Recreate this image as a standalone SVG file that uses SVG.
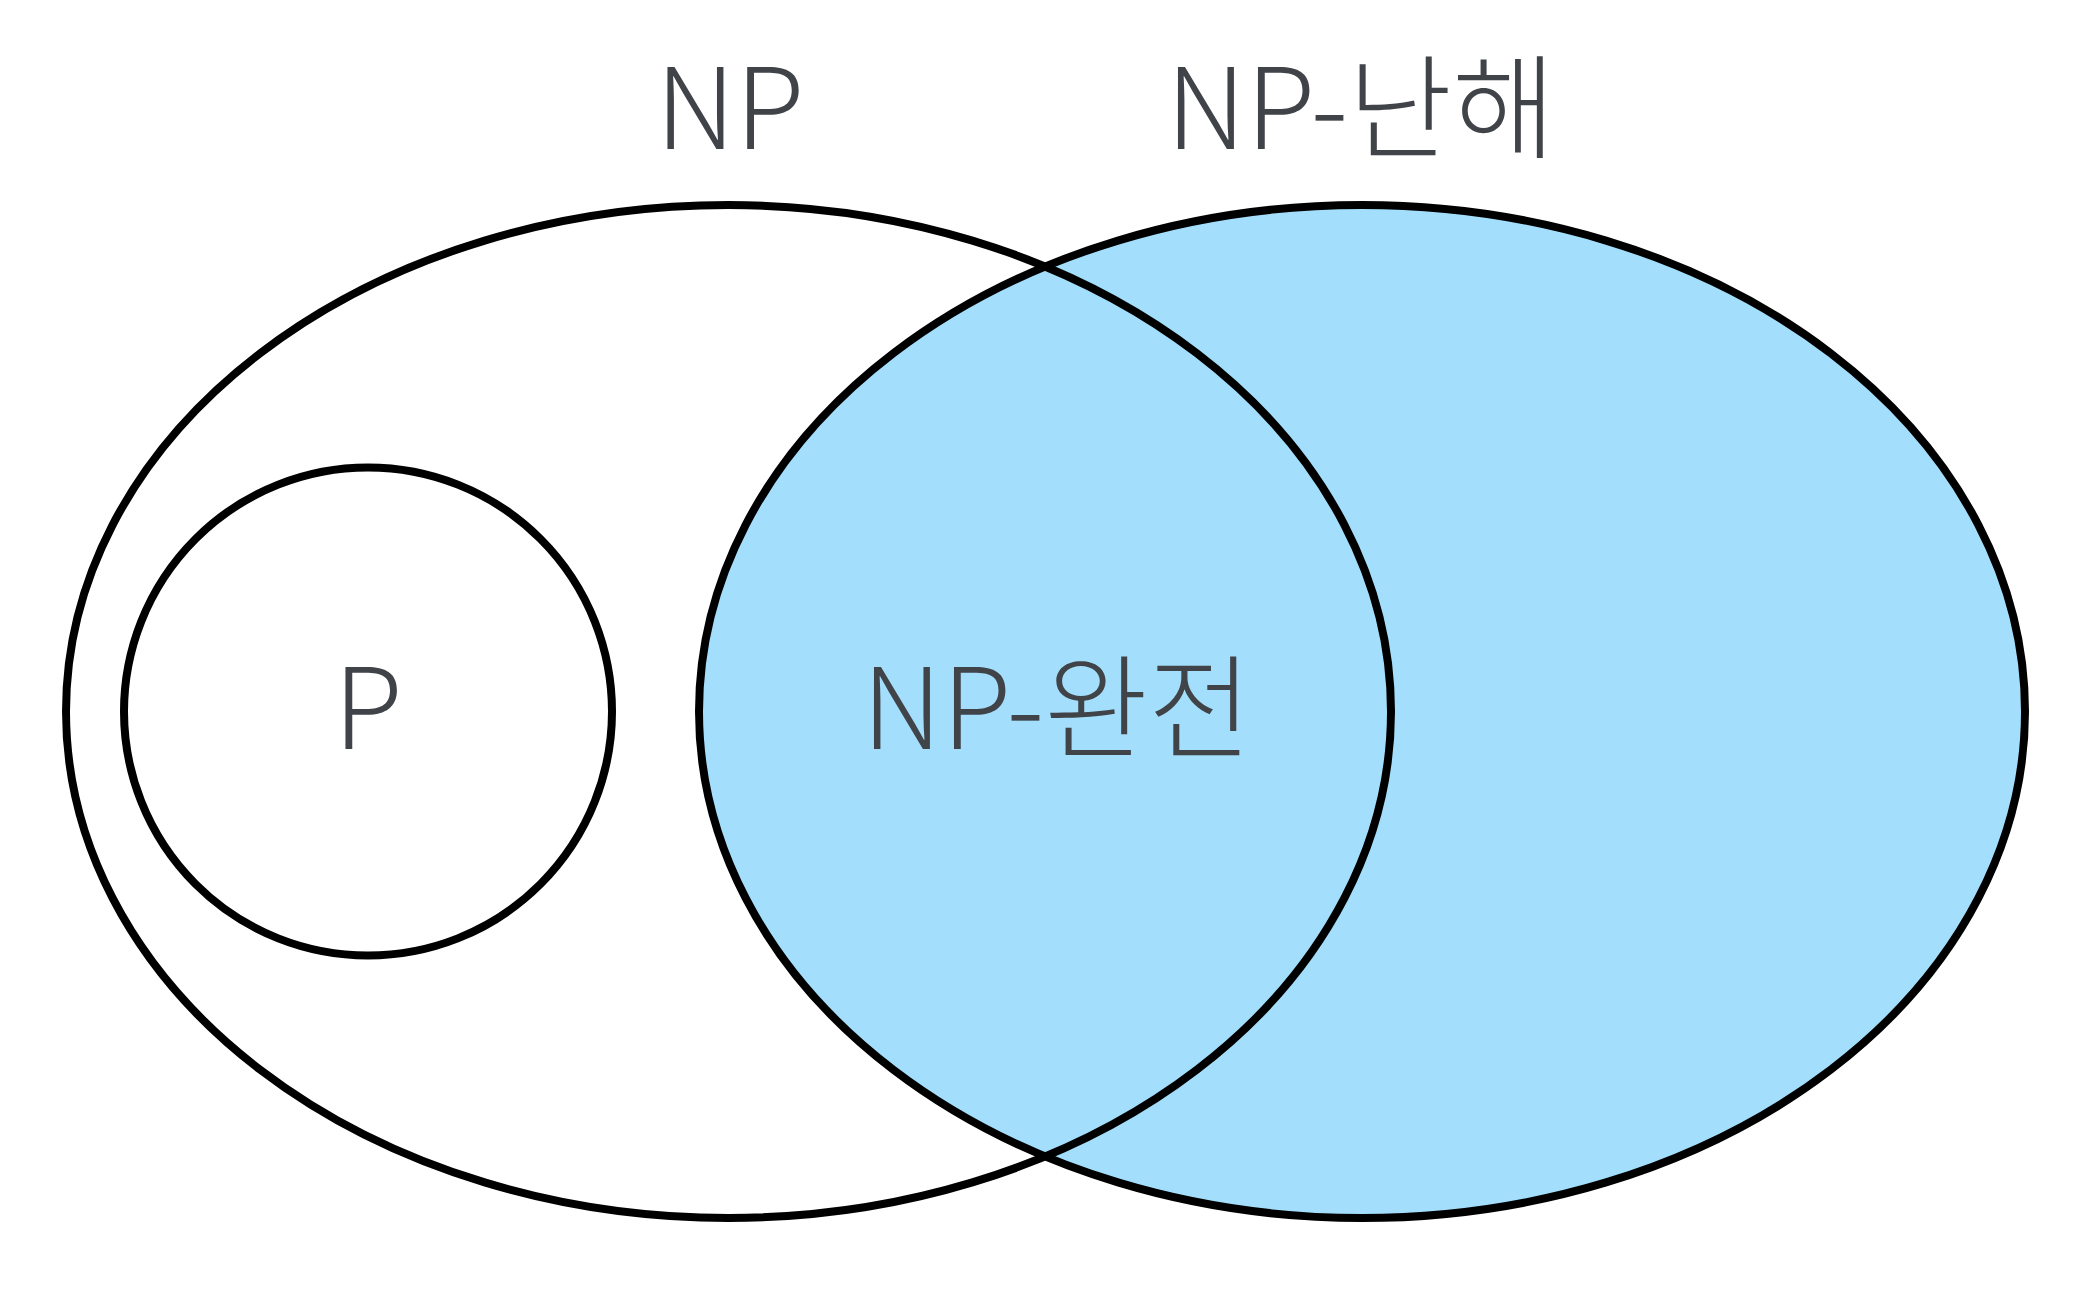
<svg xmlns="http://www.w3.org/2000/svg" width="2092" height="1292" viewBox="0 0 2092 1292">
<style>
.shape{stroke:#000;stroke-width:8}
.lbl{font-family:"Noto Sans CJK KR","Noto Sans",sans-serif;font-weight:300;font-size:113px;fill:#404449;text-anchor:middle}
</style>
<rect width="2092" height="1292" fill="#fff"/>
<g id="np-hard">
<ellipse class="shape" cx="1362" cy="711.5" rx="663" ry="506.5" fill="#a3dffc"/>
</g>
<g id="np">
<ellipse class="shape" cx="728.5" cy="711.5" rx="662.5" ry="506.5" fill="none"/>
</g>
<g id="p">
<circle class="shape" cx="368" cy="711.5" r="244" fill="none"/>
</g>
<g id="connectors"></g>
<g id="labels">
<text class="lbl" x="730" y="149">NP</text>
<text class="lbl" x="1361" y="149">NP-난해</text>
<text class="lbl" x="368" y="749">P</text>
<text class="lbl" x="1057" y="749">NP-완전</text>
</g>
</svg>
